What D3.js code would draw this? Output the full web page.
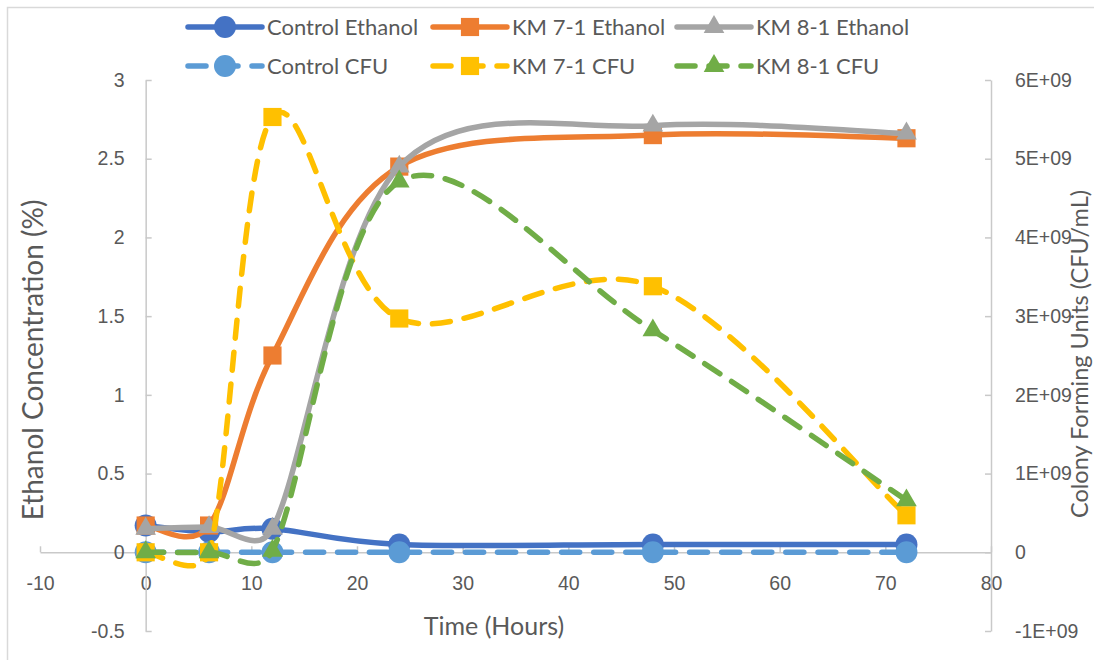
<!DOCTYPE html>
<html>
<head>
<meta charset="utf-8">
<script src="https://cdn.jsdelivr.net/npm/d3@7"></script>
<style>
  html, body { margin: 0; padding: 0; background: #fff; }
  svg { display: block; font-family: Lato, "Liberation Sans", sans-serif; }
</style>
</head>
<body>
<svg id="chart" width="1094" height="660"></svg>
<script>
// Sampling times (hours)
const hours = [0, 6, 12, 24, 48, 72];

// Ethanol concentration (%), left axis
const controlEthanol = [0.17, 0.13, 0.15, 0.05, 0.05, 0.05];
const km71Ethanol    = [0.17, 0.17, 1.25, 2.45, 2.65, 2.63];
const km81Ethanol    = [0.15, 0.16, 0.15, 2.45, 2.71, 2.66];

// Colony forming units (CFU/mL), right axis
const controlCFU = [0, 0, 0, 0, 0, 0];
const km71CFU    = [0, 0, 5.53e9, 2.97e9, 3.38e9, 0.47e9];
const km81CFU    = [0, 0, 0.02e9, 4.71e9, 2.82e9, 0.66e9];

// Tick values
const xTicks = [-10, 0, 10, 20, 30, 40, 50, 60, 70, 80];
const leftTicks = [-0.5, 0, 0.5, 1, 1.5, 2, 2.5, 3];
const rightTicks = [-1e9, 0, 1e9, 2e9, 3e9, 4e9, 5e9, 6e9];
const rightTickLabels = ["-1E+09", "0", "1E+09", "2E+09", "3E+09", "4E+09", "5E+09", "6E+09"];

const series = [
  { name: "Control Ethanol", values: controlEthanol, axis: "left",  color: "#4472C4", marker: "circle",   dashed: false },
  { name: "KM 7-1 Ethanol",  values: km71Ethanol,    axis: "left",  color: "#ED7D31", marker: "square",   dashed: false },
  { name: "KM 8-1 Ethanol",  values: km81Ethanol,    axis: "left",  color: "#A5A5A5", marker: "triangle", dashed: false },
  { name: "Control CFU",     values: controlCFU,     axis: "right", color: "#5B9BD5", marker: "circle",   dashed: true },
  { name: "KM 7-1 CFU",      values: km71CFU,        axis: "right", color: "#FFC000", marker: "square",   dashed: true },
  { name: "KM 8-1 CFU",      values: km81CFU,        axis: "right", color: "#70AD47", marker: "triangle", dashed: true }
];

const svg = d3.select("#chart");
const axisColor = "#c9c9c9";
const textColor = "#595959";
const DASH = "18,14";

// Smoothed line: Catmull-Rom style Bezier segments whose handles are
// limited to half of the segment they belong to (keeps overshoot small).
function smoothCurve(context) {
  let pts = [];
  const clip = (v, maxLen) => {
    const len = Math.hypot(v[0], v[1]);
    return len > maxLen && len > 0 ? [v[0] * maxLen / len, v[1] * maxLen / len] : v;
  };
  return {
    areaStart() {}, areaEnd() {},
    lineStart() { pts = []; },
    point(px, py) { pts.push([+px, +py]); },
    lineEnd() {
      const n = pts.length;
      if (!n) return;
      context.moveTo(pts[0][0], pts[0][1]);
      for (let i = 0; i < n - 1; i++) {
        const p0 = pts[Math.max(i - 1, 0)], p1 = pts[i], p2 = pts[i + 1], p3 = pts[Math.min(i + 2, n - 1)];
        const seg = Math.hypot(p2[0] - p1[0], p2[1] - p1[1]);
        const t1 = clip([(p2[0] - p0[0]) / 6, (p2[1] - p0[1]) / 6], seg / 2);
        const t2 = clip([(p3[0] - p1[0]) / 6, (p3[1] - p1[1]) / 6], seg / 2);
        context.bezierCurveTo(p1[0] + t1[0], p1[1] + t1[1], p2[0] - t2[0], p2[1] - t2[1], p2[0], p2[1]);
      }
    }
  };
}

// Chart frame
svg.append("rect")
  .attr("x", 7.5).attr("y", 7.5)
  .attr("width", 1200).attr("height", 700)
  .attr("fill", "none").attr("stroke", "#d9d9d9").attr("stroke-width", 1.5);

const x = d3.scaleLinear().domain([-10, 80]).range([40, 991]);
const yL = d3.scaleLinear().domain([-0.5, 3]).range([631, 80]);
const yR = d3.scaleLinear().domain([-1e9, 6e9]).range([631, 80]);

function styleAxis(g) {
  g.select(".domain").attr("stroke", axisColor).attr("stroke-width", 1.5);
  g.selectAll(".tick line").attr("stroke", axisColor).attr("stroke-width", 1.5);
  g.selectAll(".tick text").attr("fill", textColor).attr("font-size", 19.5);
}

// Horizontal axis crossing at zero
svg.append("g")
  .attr("transform", `translate(0,${yL(0)})`)
  .call(d3.axisBottom(x).tickValues(xTicks).tickSizeInner(-6).tickSizeOuter(0).tickPadding(24)
    .tickFormat(d => String(d)))
  .call(styleAxis);

// Left axis
svg.append("g")
  .attr("transform", `translate(${x(0)},0)`)
  .call(d3.axisLeft(yL).tickValues(leftTicks).tickSizeInner(-6).tickSizeOuter(0).tickPadding(21)
    .tickFormat(d => String(d)))
  .call(styleAxis);

// Right axis
svg.append("g")
  .attr("transform", `translate(${x(80)},0)`)
  .call(d3.axisRight(yR).tickValues(rightTicks).tickSizeInner(-6).tickSizeOuter(0).tickPadding(24)
    .tickFormat((d, i) => rightTickLabels[i]))
  .call(styleAxis);

// Axis titles
svg.append("text")
  .attr("x", 494).attr("y", 635)
  .attr("text-anchor", "middle").attr("fill", textColor).attr("font-size", 25)
  .text("Time (Hours)");
svg.append("text")
  .attr("transform", `translate(43,360) rotate(-90)`)
  .attr("text-anchor", "middle").attr("fill", textColor).attr("font-size", 28)
  .text("Ethanol Concentration (%)");
svg.append("text")
  .attr("transform", `translate(1088,354) rotate(-90)`)
  .attr("text-anchor", "middle").attr("fill", textColor).attr("font-size", 23.5)
  .text("Colony Forming Units (CFU/mL)");

const symbolFor = {
  circle: d3.symbol().type(d3.symbolCircle).size(380),
  square: d3.symbol().type(d3.symbolSquare).size(330),
  triangle: d3.symbol().type(d3.symbolTriangle).size(185)
};

const line = d3.line().curve(smoothCurve);

const plot = svg.append("g");
series.forEach(s => {
  const yScale = s.axis === "left" ? yL : yR;
  const pts = hours.map((h, i) => [x(h), yScale(s.values[i])]);
  const g = plot.append("g");
  g.append("path")
    .attr("d", line(pts))
    .attr("fill", "none")
    .attr("stroke", s.color)
    .attr("stroke-width", 5.5)
    .attr("stroke-linecap", "round")
    .attr("stroke-linejoin", "round")
    .attr("stroke-dasharray", s.dashed ? DASH : null);
  g.selectAll("path.marker")
    .data(pts)
    .join("path")
    .attr("class", "marker")
    .attr("transform", d => `translate(${d[0]},${d[1]})`)
    .attr("d", symbolFor[s.marker]())
    .attr("fill", s.color);
});

// Legend: two rows of three entries
const legendCols = [188, 433, 677];
const legendRows = [27, 66];
series.forEach((s, i) => {
  const lx = legendCols[i % 3];
  const ly = legendRows[Math.floor(i / 3)];
  const g = svg.append("g").attr("transform", `translate(${lx},${ly})`);
  g.append("line")
    .attr("x1", 0).attr("x2", 74).attr("y1", 0).attr("y2", 0)
    .attr("stroke", s.color).attr("stroke-width", 5.5)
    .attr("stroke-linecap", "round")
    .attr("stroke-dasharray", s.dashed ? DASH : null);
  g.append("path")
    .attr("transform", "translate(37,0)")
    .attr("d", symbolFor[s.marker]())
    .attr("fill", s.color);
  g.append("text")
    .attr("x", 79).attr("y", 0).attr("dy", "0.35em")
    .attr("fill", textColor).attr("font-size", 22)
    .text(s.name);
});
</script>
</body>
</html>
